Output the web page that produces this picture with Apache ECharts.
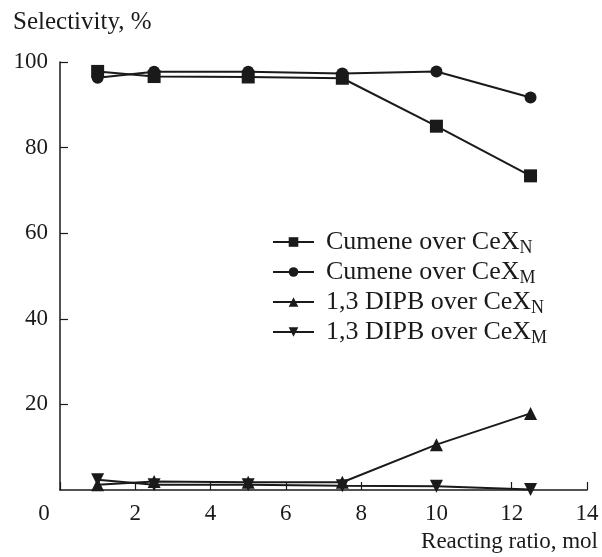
<!DOCTYPE html>
<html>
<head>
<meta charset="utf-8">
<script src="https://cdn.jsdelivr.net/npm/echarts@6/dist/echarts.min.js"></script>
<style>
  html, body { margin: 0; padding: 0; background: #fff; }
  #chart { width: 602px; height: 557px; }
</style>
</head>
<body>
<div id="chart"></div>
<script>
  var FONT = '"Liberation Serif", "DejaVu Serif", serif';
  var INK = '#1a1a1a';

  // reacting ratio, mol
  var ratios = [1, 2.5, 5, 7.5, 10, 12.5];

  // selectivity, %
  var cumeneN = [97.8, 96.6, 96.5, 96.2, 85.0, 73.4];
  var cumeneM = [96.3, 97.7, 97.7, 97.3, 97.8, 91.7];
  var dipbN = [1.2, 2.0, 1.8, 1.8, 10.6, 17.9];
  var dipbM = [2.4, 1.2, 1.2, 1.0, 0.9, 0.1];

  var seriesNames = [
    'Cumene over CeX_N',
    'Cumene over CeX_M',
    '1,3 DIPB over CeX_N',
    '1,3 DIPB over CeX_M'
  ];
  var seriesSymbols = ['rect', 'circle', 'triangle', 'triangle'];
  var seriesRotate = [0, 0, 0, 180];
  var seriesValues = [cumeneN, cumeneM, dipbN, dipbM];

  function pairs(values) {
    return values.map(function (v, i) {
      return [ratios[i], v];
    });
  }

  var chart = echarts.init(document.getElementById('chart'), null, { renderer: 'canvas' });

  var series = seriesNames.map(function (name, i) {
    return {
      name: name,
      type: 'line',
      data: pairs(seriesValues[i]),
      symbol: seriesSymbols[i],
      symbolRotate: seriesRotate[i],
      symbolSize: seriesSymbols[i] === 'circle' ? 12 : 13,
      showAllSymbol: true,
      lineStyle: { color: INK, width: 2 },
      itemStyle: { color: INK },
      emphasis: { disabled: true },
      animation: false
    };
  });

  chart.setOption({
    animation: false,
    grid: { left: 60, right: 15, top: 62, bottom: 67 },
    legend: {
      orient: 'vertical',
      left: 267,
      top: 222,
      itemWidth: 41,
      itemHeight: 12,
      itemGap: 0,
      data: seriesNames,
      textStyle: {
        fontFamily: FONT,
        fontSize: 26,
        color: INK,
        lineHeight: 30,
        padding: [0, 0, 0, 7],
        rich: {
          sub: {
            fontFamily: FONT,
            fontSize: 18,
            color: INK,
            verticalAlign: 'bottom',
            lineHeight: 15
          }
        }
      },
      formatter: function (name) {
        return name.replace(/X_(\w)$/, 'X{sub|$1}');
      }
    },
    xAxis: {
      type: 'value',
      min: 0,
      max: 14,
      interval: 2,
      name: 'Reacting ratio, mol',
      nameLocation: 'end',
      nameGap: 11,
      nameTextStyle: {
        fontFamily: FONT,
        fontSize: 23,
        color: INK,
        align: 'right',
        verticalAlign: 'top',
        padding: [40, 0, 0, 0]
      },
      axisLine: { lineStyle: { color: INK, width: 1.5 } },
      axisTick: { inside: true, length: 8, lineStyle: { color: INK, width: 1.2 } },
      splitLine: { show: false },
      axisLabel: {
        fontFamily: FONT,
        fontSize: 23,
        color: INK,
        margin: 12,
        formatter: function (v) {
          return v === 0 ? '{z|0}' : String(v);
        },
        rich: {
          z: { fontFamily: FONT, fontSize: 23, color: INK, padding: [0, 32, 0, 0] }
        }
      }
    },
    yAxis: {
      type: 'value',
      min: 0,
      max: 100,
      interval: 20,
      name: 'Selectivity, %',
      nameLocation: 'end',
      nameGap: 27,
      nameTextStyle: {
        fontFamily: FONT,
        fontSize: 25,
        color: INK,
        align: 'left',
        padding: [0, 0, 0, -47]
      },
      axisLine: { show: true, lineStyle: { color: INK, width: 1.5 } },
      axisTick: { show: true, inside: true, length: 8, lineStyle: { color: INK, width: 1.2 } },
      splitLine: { show: false },
      axisLabel: {
        fontFamily: FONT,
        fontSize: 23,
        color: INK,
        margin: 12,
        showMinLabel: false
      }
    },
    series: series
  });
</script>
</body>
</html>
